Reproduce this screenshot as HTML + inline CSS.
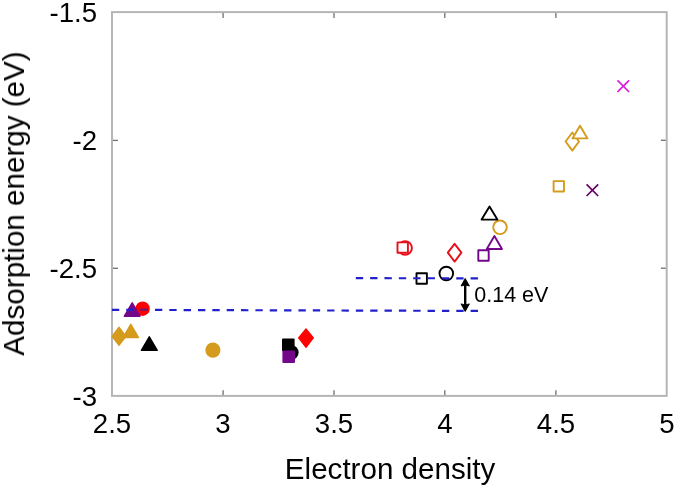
<!DOCTYPE html>
<html>
<head>
<meta charset="utf-8">
<style>
html,body{margin:0;padding:0;background:#fff;}
body{width:675px;height:488px;overflow:hidden;}
svg{display:block;}
text{font-family:"Liberation Sans", sans-serif;fill:#000;}
.t{opacity:0.999;}
</style>
</head>
<body>
<svg width="675" height="488" viewBox="0 0 675 488">
<rect x="0" y="0" width="675" height="488" fill="#fff"/>
<!-- plot frame -->
<rect x="112" y="12.1" width="554.7" height="383.8" fill="none" stroke="#b6b6b6" stroke-width="2"/>
<!-- ticks -->
<g stroke="#707070" stroke-width="1.3">
<line x1="223.1" y1="395" x2="223.1" y2="390.3"/>
<line x1="334" y1="395" x2="334" y2="390.3"/>
<line x1="444.8" y1="395" x2="444.8" y2="390.3"/>
<line x1="555.9" y1="395" x2="555.9" y2="390.3"/>
<line x1="223.1" y1="13" x2="223.1" y2="18"/>
<line x1="334" y1="13" x2="334" y2="18"/>
<line x1="444.8" y1="13" x2="444.8" y2="18"/>
<line x1="555.9" y1="13" x2="555.9" y2="18"/>
<line x1="113" y1="140.4" x2="118" y2="140.4"/>
<line x1="113" y1="268.3" x2="118" y2="268.3"/>
<line x1="665.8" y1="140.3" x2="660.9" y2="140.3"/>
<line x1="665.8" y1="268.2" x2="660.9" y2="268.2"/>
</g>
<g class="t">
<!-- y tick labels -->
<g font-size="27.6" text-anchor="end">
<text x="97" y="22">-1.5</text>
<text x="97" y="150">-2</text>
<text x="97" y="278">-2.5</text>
<text x="97" y="406">-3</text>
</g>
<!-- x tick labels -->
<g font-size="27.6" text-anchor="middle">
<text x="112" y="432.6">2.5</text>
<text x="223" y="432.6">3</text>
<text x="334" y="432.6">3.5</text>
<text x="445" y="432.6">4</text>
<text x="556" y="432.6">4.5</text>
<text x="667" y="432.6">5</text>
</g>
<!-- axis titles -->
<text x="390.1" y="479.3" font-size="29.6" text-anchor="middle">Electron density</text>
<text transform="translate(24,203.5) rotate(-90)" font-size="29.6" text-anchor="middle">Adsorption energy (eV)</text>

</g>
<!-- markers: circles -->
<circle cx="142.6" cy="308.7" r="7.2" fill="#ff0000"/>
<circle cx="212.9" cy="350.1" r="7.6" fill="#d49b1c"/>
<circle cx="291.2" cy="352.5" r="7.4" fill="#000"/>
<g fill="#fff" stroke-width="1.9" stroke-linejoin="round">
<circle cx="405.1" cy="248" r="6.8" stroke="#e8101a"/>
<circle cx="446.3" cy="273.5" r="6.8" stroke="#000"/>
<circle cx="500" cy="227.3" r="6.8" stroke="#d49b1c"/>
</g>
<!-- squares -->
<rect x="282" y="338.6" width="12.6" height="12.6" fill="#000" rx="1"/>
<rect x="282.4" y="350.4" width="12.6" height="12.6" fill="#74068a" rx="1"/>
<g fill="#fff" stroke-width="1.9" stroke-linejoin="round">
<rect x="397.5" y="242.4" width="10.4" height="10.4" stroke="#e8101a"/>
<rect x="416.5" y="273.3" width="10.4" height="10.4" stroke="#000"/>
<rect x="478.3" y="250.3" width="10.4" height="10.4" stroke="#74068a"/>
<rect x="553.6" y="181.1" width="10.4" height="10.4" stroke="#d49b1c"/>
</g>
<!-- diamonds -->
<path d="M119,327.2 L126,336.3 L119,345.4 L112,336.3 Z" fill="#d49b1c" stroke="#d49b1c" stroke-width="1.2" stroke-linejoin="round"/>
<path d="M306,328.8 L313.4,338 L306,347.4 L298.6,338 Z" fill="#ff0000" stroke="#ff0000" stroke-width="1.2" stroke-linejoin="round"/>
<g fill="#fff" stroke-width="1.9" stroke-linejoin="round">
<path d="M454.6,243.8 L461.4,252.7 L454.6,261.6 L447.8,252.7 Z" stroke="#e8101a"/>
<path d="M572.3,132.5 L579,141.5 L572.3,150.6 L565.6,141.5 Z" stroke="#d49b1c"/>
</g>
<!-- triangles -->
<path d="M132.2,302.8 L140,316.2 L124.4,316.2 Z" fill="#74068a" stroke="#74068a" stroke-width="1.5" stroke-linejoin="round"/>
<path d="M130.8,324.4 L138.5,337.6 L123.1,337.6 Z" fill="#d49b1c" stroke="#d49b1c" stroke-width="1.5" stroke-linejoin="round"/>
<path d="M149.3,336.8 L157.2,350.3 L141.4,350.3 Z" fill="#000" stroke="#000" stroke-width="1.5" stroke-linejoin="round"/>
<g fill="#fff" stroke-width="1.9" stroke-linejoin="round">
<path d="M489.5,206.6 L497.4,219.6 L481.6,219.6 Z" stroke="#000"/>
<path d="M494.4,236.1 L502,249 L486.8,249 Z" stroke="#74068a"/>
<path d="M580,125.8 L587.5,138.4 L572.5,138.4 Z" stroke="#d49b1c"/>
</g>
<!-- X markers -->
<g stroke-width="1.7" stroke-linecap="butt">
<path d="M586.6,184.4 L598.2,196 M598.2,184.4 L586.6,196" stroke="#660066"/>
<path d="M617.5,80.4 L629.1,92 M629.1,80.4 L617.5,92" stroke="#d81cd8"/>
</g>

<!-- dashed lines -->
<g stroke="#2020cc" stroke-width="2.2" stroke-dasharray="7.35 7.0">
<line x1="111.9" y1="309.8" x2="478" y2="310.95"/>
<line x1="355.8" y1="278.2" x2="478" y2="278.3"/>
</g>
<rect x="140.6" y="308.8" width="7.35" height="2.2" fill="#7a1a66"/>
<!-- arrow -->
<line x1="465.2" y1="284" x2="465.2" y2="306" stroke="#000" stroke-width="2.4"/>
<path d="M465.2,278.4 L469.4,286 L465.2,285 L461,286 Z" fill="#000" stroke="#000" stroke-width="0.9" stroke-linejoin="round"/>
<path d="M465.2,311.5 L469.4,303.9 L465.2,304.9 L461,303.9 Z" fill="#000" stroke="#000" stroke-width="0.9" stroke-linejoin="round"/>
<text class="t" x="474.3" y="302" font-size="21.5">0.14 eV</text>
</svg>
</body>
</html>
